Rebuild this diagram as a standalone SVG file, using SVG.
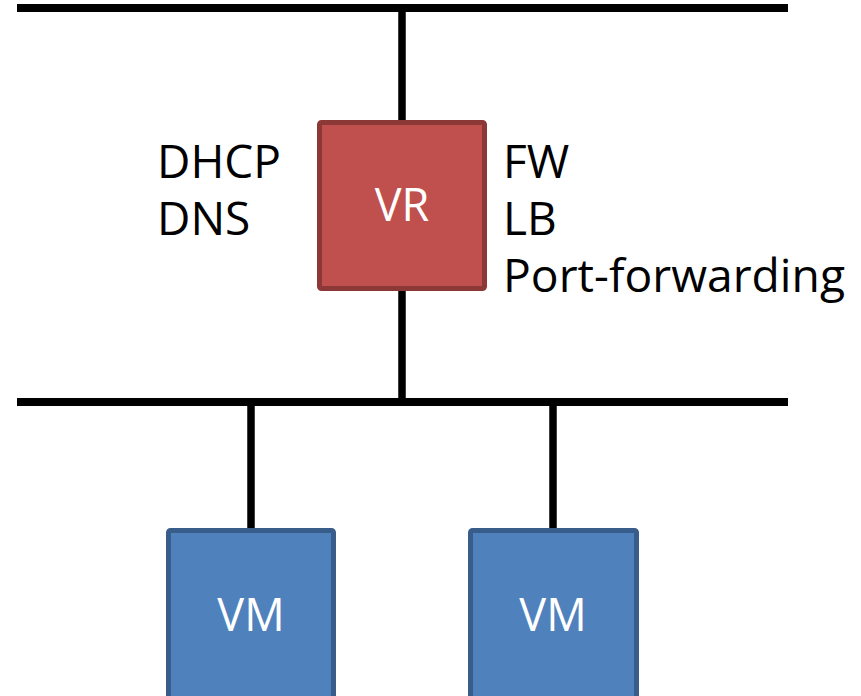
<svg xmlns="http://www.w3.org/2000/svg" width="861" height="696" viewBox="0 0 861 696">
<style>
.wire{stroke:#000;stroke-width:8;fill:none}
.stub{stroke:#000;stroke-width:7.5;fill:none}
.vr{fill:#C0504D;stroke:#8C3836;stroke-width:5}
.vm{fill:#4F81BD;stroke:#385D8A;stroke-width:5}
.lbl{font-family:"Open Sans","DejaVu Sans",sans-serif;font-size:46px;fill:#000}
.in{font-family:"Open Sans","DejaVu Sans",sans-serif;font-size:45px;fill:#fff;text-anchor:middle}
</style>
<rect width="861" height="696" fill="#fff"/>
<g id="connectors">
<line class="wire" x1="17" y1="8" x2="788" y2="8"/>
<line class="wire" x1="17" y1="402" x2="788" y2="402"/>
<line class="stub" x1="402" y1="12" x2="402" y2="122"/>
<line class="stub" x1="402" y1="289" x2="402" y2="402"/>
<line class="stub" x1="251" y1="402" x2="251" y2="530"/>
<line class="stub" x1="553" y1="402" x2="553" y2="530"/>
</g>
<g id="vr">
<rect class="vr" x="319.5" y="122.5" width="165" height="166" rx="2"/>
<text class="in" x="402" y="221">VR</text>
</g>
<g id="vr-left-labels">
<text class="lbl" x="157" y="178">DHCP</text>
<text class="lbl" x="157" y="235">DNS</text>
</g>
<g id="vr-right-labels">
<text class="lbl" x="503" y="178">FW</text>
<text class="lbl" x="503" y="235">LB</text>
<text class="lbl" x="503" y="292" textLength="342" lengthAdjust="spacingAndGlyphs">Port-forwarding</text>
</g>
<g id="vm1">
<rect class="vm" x="168.5" y="530.5" width="165" height="170" rx="2"/>
<text class="in" x="251" y="631">VM</text>
</g>
<g id="vm2">
<rect class="vm" x="470.5" y="530.5" width="166" height="170" rx="2"/>
<text class="in" x="553" y="631">VM</text>
</g>
</svg>
